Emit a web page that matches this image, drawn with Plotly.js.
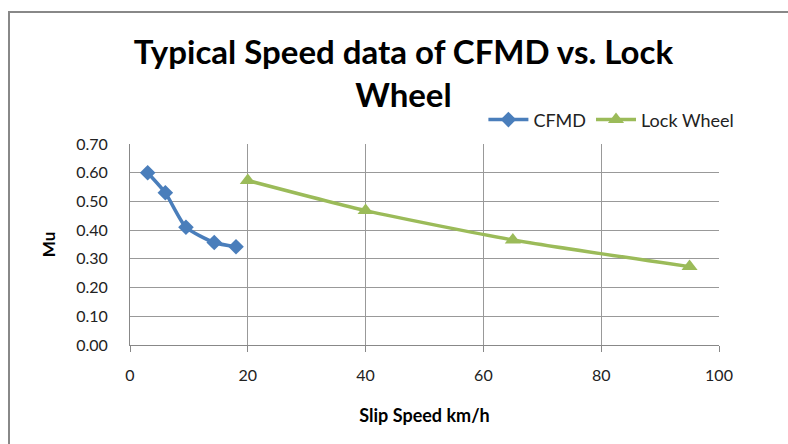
<!DOCTYPE html>
<html>
<head>
<meta charset="utf-8">
<script src="https://cdn.plot.ly/plotly-3.0.1.min.js"></script>
<style>
html,body{margin:0;padding:0;background:#fff;}
#chart{width:788px;height:444px;position:absolute;left:0;top:0;}
#frame{position:absolute;left:8px;top:11px;width:800px;height:460px;border-top:2px solid #888;border-left:2px solid #888;pointer-events:none;}
</style>
</head>
<body>
<div id="chart"></div>
<div id="frame"></div>
<script>
const cfmdSpeed = [3, 6, 9.5, 14.3, 18];
const cfmdMu = [0.60, 0.53, 0.41, 0.357, 0.342];
const lockSpeed = [20, 40, 65, 95];
const lockMu = [0.573, 0.468, 0.366, 0.273];
const xTicks = [0, 20, 40, 60, 80, 100];
const yTicks = [0, 0.1, 0.2, 0.3, 0.4, 0.5, 0.6, 0.7];

const font = 'Lato, "Open Sans", sans-serif';

const traces = [
  {
    x: cfmdSpeed, y: cfmdMu, name: 'CFMD', type: 'scatter', mode: 'lines+markers',
    line: {color: '#4a7ebb', width: 3.5, shape: 'spline', smoothing: 0.6},
    marker: {symbol: 'diamond', size: 12, color: '#4a7ebb'}
  },
  {
    x: lockSpeed, y: lockMu, name: 'Lock Wheel', type: 'scatter', mode: 'lines+markers',
    line: {color: '#9bbb59', width: 3.5, shape: 'spline', smoothing: 0.6},
    marker: {symbol: 'triangle-up', size: 14, color: '#9bbb59'}
  }
];

const layout = {
  width: 788, height: 444,
  margin: {l: 130, r: 69, t: 144, b: 99, autoexpand: false},
  paper_bgcolor: '#fff', plot_bgcolor: '#fff',
  showlegend: true,
  title: {
    text: 'Typical Speed data of CFMD vs. Lock<br>Wheel',
    font: {family: font, size: 33, color: '#000', weight: 'bold'},
    x: 0.512, xanchor: 'center', y: 0.856, yanchor: 'middle'
  },
  legend: {
    orientation: 'h', x: 0.6, xanchor: 'left', y: 1.12, yanchor: 'middle',
    font: {family: font, size: 18, color: '#222'},
    itemwidth: 40, tracegroupgap: 0, bgcolor: 'rgba(0,0,0,0)'
  },
  xaxis: {
    range: [0, 100], tickvals: xTicks, ticktext: xTicks.map(String),
    showgrid: true, gridcolor: '#999', gridwidth: 1,
    showline: true, linecolor: '#888', linewidth: 1, mirror: false,
    ticks: 'outside', ticklen: 6, tickcolor: '#888',
    ticklabelstandoff: 10,
    tickfont: {family: font, size: 16, color: '#222'},
    zeroline: false,
    title: {text: 'Slip Speed km/h', font: {family: font, size: 18, color: '#000', weight: 'bold'}, standoff: 26}
  },
  yaxis: {
    range: [0, 0.7], tickvals: yTicks, ticktext: yTicks.map(v => v.toFixed(2)),
    showgrid: true, gridcolor: '#999', gridwidth: 1,
    showline: true, linecolor: '#888', linewidth: 1,
    ticks: '', ticklabelstandoff: 18,
    tickfont: {family: font, size: 16, color: '#222'},
    zeroline: false,
    title: {text: 'Mu', font: {family: font, size: 17, color: '#000', weight: 'bold'}, standoff: 16}
  }
};

Plotly.newPlot('chart', traces, layout, {displayModeBar: false, staticPlot: true});
</script>
</body>
</html>
